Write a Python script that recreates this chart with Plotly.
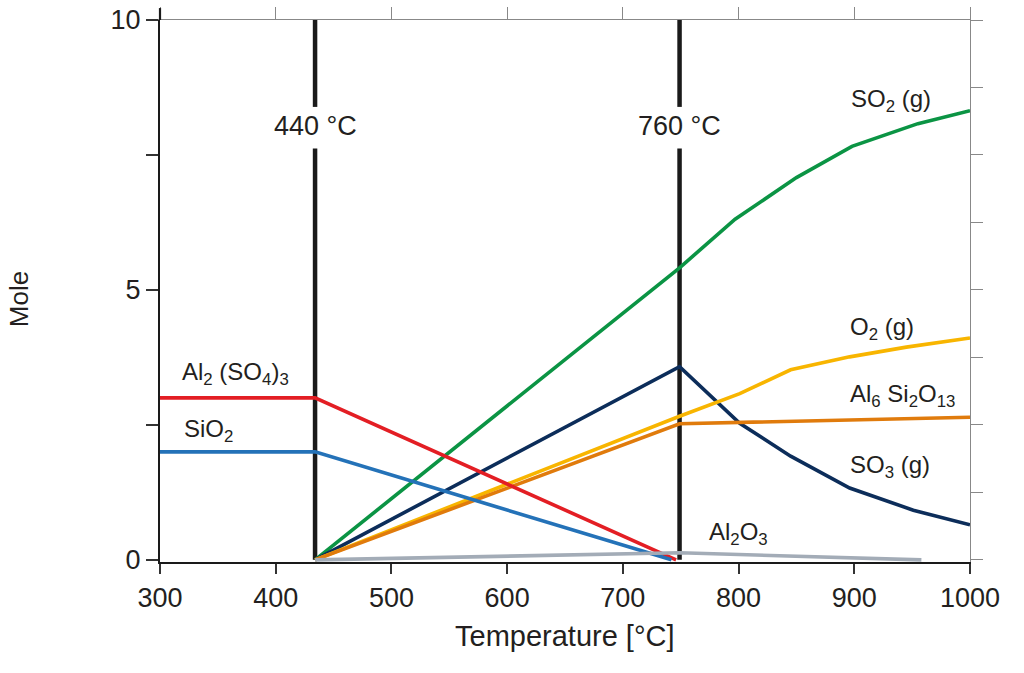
import plotly.graph_objects as go

# ---- data ----
al2so43_x = [300, 434, 746]
al2so43_y = [3.0, 3.0, 0.0]
sio2_x = [300, 434, 742]
sio2_y = [2.0, 2.0, 0.0]
so2_x = [434, 749, 797, 850, 898, 955, 1000]
so2_y = [0.0, 5.41, 6.31, 7.08, 7.66, 8.08, 8.32]
so3_x = [434, 749, 801, 845, 896, 951, 1000]
so3_y = [0.0, 3.58, 2.53, 1.92, 1.33, 0.92, 0.65]
o2_x = [434, 749, 801, 845, 896, 945, 1000]
o2_y = [0.0, 2.66, 3.08, 3.52, 3.76, 3.94, 4.11]
mullite_x = [434, 749, 1000]
mullite_y = [0.0, 2.52, 2.64]
al2o3_x = [434, 749, 958]
al2o3_y = [0.0, 0.13, 0.0]

x_ticks = [300, 400, 500, 600, 700, 800, 900, 1000]
y_ticks = [0, 2.5, 5, 7.5, 10]
y_ticktext = ["0", "", "5", "", "10"]
y_minor = [0, 1.25, 2.5, 3.75, 5, 6.25, 7.5, 8.75, 10]
transitions = [434, 749]
transition_labels = ["440 °C", "760 °C"]

FONT = "Liberation Sans, Arial, sans-serif"
TXT = "#231f20"
LW = 3.6

fig = go.Figure()

series = [
    (so2_x, so2_y, "#0b9444", "SO2 (g)"),
    (so3_x, so3_y, "#0c2d5a", "SO3 (g)"),
    (o2_x, o2_y, "#f8b500", "O2 (g)"),
    (mullite_x, mullite_y, "#e07b0c", "Al6Si2O13"),
    (al2so43_x, al2so43_y, "#e31e24", "Al2(SO4)3"),
    (sio2_x, sio2_y, "#2472b8", "SiO2"),
    (al2o3_x, al2o3_y, "#a3acb7", "Al2O3"),
]
for xs, ys, col, name in series:
    fig.add_trace(go.Scatter(x=xs, y=ys, mode="lines", name=name,
                             line=dict(color=col, width=LW),
                             showlegend=False, hoverinfo="skip"))

# dummy trace for the top / right axes
fig.add_trace(go.Scatter(x=[None], y=[None], xaxis="x2", yaxis="y2",
                         showlegend=False, hoverinfo="skip"))

YR = [-0.04, 10]

# vertical transition lines with gap for label
for xv in transitions:
    for y0, y1 in [(0, 7.62), (8.39, 10)]:
        fig.add_shape(type="line", x0=xv, x1=xv, y0=y0, y1=y1,
                      xref="x", yref="y", line=dict(color="#1a1a1a", width=4.5),
                      layer="below")

# left axis line overshoot above the top frame
fig.add_shape(type="line", xref="paper", yref="paper", x0=0, x1=0, y0=1, y1=1.022,
              line=dict(color="#1a1a1a", width=2.2))

ann = []
for xv, lab in zip(transitions, transition_labels):
    ann.append(dict(x=xv, y=8.03, xref="x", yref="y", text=lab, showarrow=False,
                    xanchor="center", yanchor="middle",
                    font=dict(family=FONT, size=27, color=TXT)))

labels = [
    ("Al<sub>2</sub> (SO<sub>4</sub>)<sub>3</sub>", 317.3, 3.45),
    ("SiO<sub>2</sub>", 319, 2.40),
    ("SO<sub>2</sub> (g)", 895.5, 8.50),
    ("O<sub>2</sub> (g)", 894.6, 4.28),
    ("Al<sub>6</sub> Si<sub>2</sub>O<sub>13</sub>", 894.6, 3.04),
    ("SO<sub>3</sub> (g)", 894.6, 1.73),
    ("Al<sub>2</sub>O<sub>3</sub>", 772.8, 0.48),
]
for t, xv, yv in labels:
    ann.append(dict(x=xv, y=yv, xref="x", yref="y", text=t, showarrow=False,
                    xanchor="left", yanchor="middle",
                    font=dict(family=FONT, size=24, color=TXT)))

ann.append(dict(x=0.5, y=0, xref="paper", yref="paper", text="Temperature [°C]",
                showarrow=False, xanchor="center", yanchor="middle", yshift=-74,
                font=dict(family=FONT, size=29, color=TXT)))
ann.append(dict(x=0, y=0.485, xref="paper", yref="paper", text="Mole",
                showarrow=False, xanchor="center", yanchor="middle", xshift=-141,
                textangle=-90, font=dict(family=FONT, size=26, color=TXT)))

fig.update_layout(
    width=1024, height=673,
    margin=dict(l=160, r=54, t=20, b=111, autoexpand=False),
    paper_bgcolor="white", plot_bgcolor="white",
    annotations=ann,
    xaxis=dict(range=[300, 1000], tickvals=x_ticks, ticks="outside", ticklen=10,
               tickwidth=1.5, tickcolor="#333", showline=True, linecolor="#1a1a1a",
               linewidth=2.2, showgrid=False, zeroline=False, automargin=False,
               ticklabeloverflow="allow",
               tickfont=dict(family=FONT, size=27, color=TXT)),
    yaxis=dict(range=YR, tickvals=y_ticks, ticktext=y_ticktext, ticks="outside",
               ticklen=12, tickwidth=1.5, tickcolor="#333", showline=True,
               linecolor="#1a1a1a", linewidth=2.2, showgrid=False, zeroline=False,
               automargin=False, ticklabeloverflow="allow",
               tickfont=dict(family=FONT, size=27, color=TXT)),
    xaxis2=dict(range=[300, 1000], overlaying="x", side="top", tickvals=x_ticks,
                ticks="outside", ticklen=12, tickwidth=1.2, tickcolor="#888",
                showline=True, linecolor="#888", linewidth=1.2, automargin=False,
                showticklabels=False, showgrid=False, zeroline=False),
    yaxis2=dict(range=YR, overlaying="y", side="right", tickvals=y_minor,
                ticks="outside", ticklen=12, tickwidth=1.2, tickcolor="#888",
                showline=True, linecolor="#888", linewidth=1.2, automargin=False,
                showticklabels=False, showgrid=False, zeroline=False),
)

fig.write_html("out.html", config={"displayModeBar": False},
               post_script="document.body.style.margin='0';")
